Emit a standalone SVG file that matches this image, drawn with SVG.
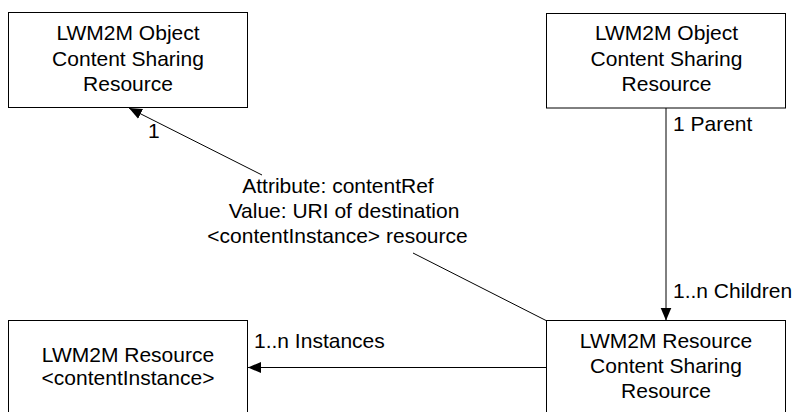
<svg xmlns="http://www.w3.org/2000/svg" width="794" height="412" viewBox="0 0 794 412">
<defs>
<style>
.box{fill:#fff;stroke:#000;stroke-width:1}
.t{font-family:"Liberation Sans",Arial,sans-serif;font-size:21px;fill:#000}
.c{text-anchor:middle}
.ln{stroke:#000;stroke-width:1;fill:none}
</style>
<marker id="arr" markerUnits="userSpaceOnUse" markerWidth="14" markerHeight="12" refX="13" refY="6" orient="auto">
<path d="M0,0.5 L13,6 L0,11.5 Z" fill="#000"/>
</marker>
</defs>
<rect width="794" height="412" fill="#fff"/>
<g id="connectors">
<line class="ln" x1="666" y1="108" x2="666" y2="320.5" marker-end="url(#arr)"/>
<line class="ln" x1="546" y1="367.5" x2="248" y2="367.5" marker-end="url(#arr)"/>
<line class="ln" x1="546" y1="320.5" x2="413" y2="253"/>
<line class="ln" x1="262" y1="175" x2="129" y2="108" marker-end="url(#arr)"/>
<text class="t" x="148" y="138">1</text>
<text class="t" x="673" y="131">1 Parent</text>
<text class="t" x="673" y="298">1..n Children</text>
<text class="t" x="254" y="348">1..n Instances</text>
<text class="t c" x="338" y="193">Attribute: contentRef</text>
<text class="t c" x="344" y="218">Value: URI of destination</text>
<text class="t c" x="337.5" y="243">&lt;contentInstance&gt; resource</text>
</g>
<g id="obj1">
<rect class="box" x="8.5" y="12.5" width="239" height="95"/>
<text class="t c" x="128" y="40">LWM2M Object</text>
<text class="t c" x="128" y="65.5">Content Sharing</text>
<text class="t c" x="128" y="90.5">Resource</text>
</g>
<g id="obj2">
<rect class="box" x="546.5" y="13.5" width="239" height="94.5"/>
<text class="t c" x="666.5" y="39.5">LWM2M Object</text>
<text class="t c" x="666.5" y="65.5">Content Sharing</text>
<text class="t c" x="666.5" y="91">Resource</text>
</g>
<g id="res1">
<rect class="box" x="8.5" y="320.5" width="239" height="110"/>
<text class="t c" x="128" y="361.5">LWM2M Resource</text>
<text class="t c" x="128" y="385">&lt;contentInstance&gt;</text>
</g>
<g id="res2">
<rect class="box" x="546.5" y="320.5" width="239" height="110"/>
<text class="t c" x="666" y="348">LWM2M Resource</text>
<text class="t c" x="666" y="373">Content Sharing</text>
<text class="t c" x="666" y="398">Resource</text>
</g>
</svg>
